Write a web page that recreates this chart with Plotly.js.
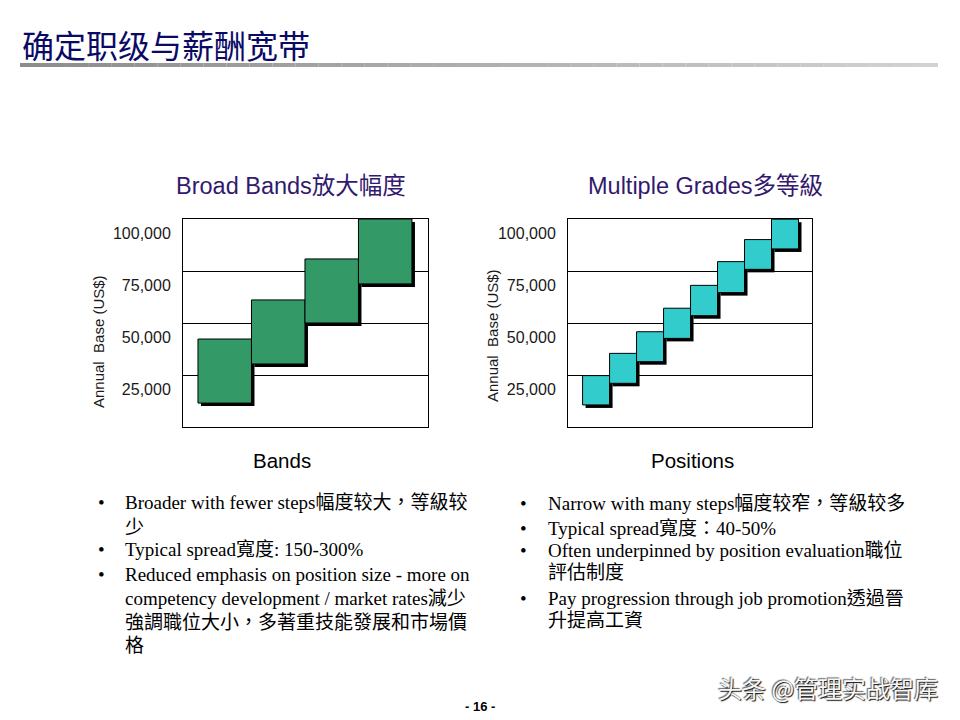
<!DOCTYPE html>
<html>
<head>
<meta charset="utf-8">
<script src="https://cdn.plot.ly/plotly-3.0.1.min.js"></script>
<style>html,body{margin:0;padding:0;background:#fff;}#chart{width:960px;height:720px;}</style>
</head>
<body>
<div id="chart"></div>
<script>
// ---- data ----
const pageTitle = '确定职级与薪酬宽带';
const bandTitle = 'Broad Bands放大幅度';
const gradeTitle = 'Multiple Grades多等級';
const bandAxisTitle = 'Bands';
const gradeAxisTitle = 'Positions';
const yAxisTitle = 'Annual  Base (US$)';
const bandIndex = [1, 2, 3, 4];
const bandLow  = [11500, 30300, 50000, 68800];
const bandHigh = [42300, 61100, 80800, 100000];
const gradeIndex = [1, 2, 3, 4, 5, 6, 7, 8];
const gradeLow  = [10600, 21000, 31400, 42600, 53500, 64600, 75800, 85600];
const gradeHigh = [24700, 35400, 45800, 57100, 68100, 79500, 90100, 99900];
const yTickVals = [25000, 50000, 75000, 100000];
const yTickText = ['25,000', '50,000', '75,000', '100,000'];
const leftBullets = [
  {bullet: true,  text: 'Broader with fewer steps幅度较大，等級较'},
  {bullet: false, text: '少'},
  {bullet: true,  text: 'Typical spread寬度: 150-300%'},
  {bullet: true,  text: 'Reduced emphasis on position size - more on'},
  {bullet: false, text: 'competency development / market rates減少'},
  {bullet: false, text: '強調職位大小，多著重技能發展和市場價'},
  {bullet: false, text: '格'}
];
const rightBullets = [
  {bullet: true,  text: 'Narrow with many steps幅度较窄，等級较多'},
  {bullet: true,  text: 'Typical spread寬度：40-50%'},
  {bullet: true,  text: 'Often underpinned by position evaluation職位'},
  {bullet: false, text: '評估制度'},
  {bullet: true,  text: 'Pay progression through job promotion透過晉'},
  {bullet: false, text: '升提高工資'}
];
const pageNumber = '- 16 -';
const watermark = '头条 @管理实战智库';

// ---- layout constants ----
const W = 960, H = 720;
const px = v => v / W, py = v => 1 - v / H;
const plotTop = 219, plotBottom = 427;
const yMax = 100000;
const shadowPx = 3;
const shadowY = shadowPx * yMax / (plotBottom - plotTop);
const leftX = [183, 428], rightX = [568, 812];
const bandRange = [0.22, 4.8], gradeRange = [-0.04, 9.0];
const bandUnitPx = (leftX[1] - leftX[0]) / (bandRange[1] - bandRange[0]);
const gradeUnitPx = (rightX[1] - rightX[0]) / (gradeRange[1] - gradeRange[0]);

const sans = 'Arial, "Liberation Sans", "Noto Sans CJK SC", sans-serif';
const serif = '"Times New Roman", "Liberation Serif", "Noto Sans CJK TC", serif';

function boxTraces(xs, lows, highs, color, xa, ya, unitPx) {
  const heights = highs.map((h, i) => h - lows[i]);
  return [
    {type: 'bar', x: xs, base: lows.map(v => v - shadowY), y: heights,
     width: 1, offset: -0.5 + shadowPx / unitPx,
     marker: {color: '#000000', line: {width: 0}},
     xaxis: xa, yaxis: ya, hoverinfo: 'skip', showlegend: false},
    {type: 'bar', x: xs, base: lows, y: heights, width: 1,
     marker: {color: color, line: {color: '#000000', width: 1}},
     xaxis: xa, yaxis: ya, hoverinfo: 'skip', showlegend: false}
  ];
}

const data = [
  ...boxTraces(bandIndex, bandLow, bandHigh, '#339966', 'x', 'y', bandUnitPx),
  ...boxTraces(gradeIndex, gradeLow, gradeHigh, '#33CCCC', 'x2', 'y2', gradeUnitPx)
];

function yAxis(anchor) {
  return {
    anchor: anchor, domain: [py(plotBottom), py(plotTop)], range: [0, yMax],
    tickvals: yTickVals, ticktext: yTickText, ticks: '',
    ticklabelshift: 14, ticklabelstandoff: 8,
    tickfont: {family: sans, size: 16, color: '#1a1a1a'},
    showgrid: true, gridcolor: '#000000', gridwidth: 1, zeroline: false,
    showline: true, linecolor: '#000000', linewidth: 1, mirror: true, fixedrange: true
  };
}
function xAxis(anchor, dom, rng) {
  return {
    anchor: anchor, domain: [px(dom[0]), px(dom[1])], range: rng,
    showticklabels: false, ticks: '', showgrid: false, zeroline: false,
    showline: true, linecolor: '#000000', linewidth: 1, mirror: true, fixedrange: true
  };
}

const annotations = [];
function ann(x, y, text, font, opts) {
  annotations.push(Object.assign({xref: 'paper', yref: 'paper', x: px(x), y: py(y), text: text,
    showarrow: false, font: font, xanchor: 'center', yanchor: 'middle'}, opts || {}));
}
ann(20, 44, pageTitle, {family: '"Noto Sans CJK SC", sans-serif', size: 32, color: '#0a0a66'}, {xanchor: 'left'});
ann(290.5, 186, bandTitle, {family: sans, size: 23.5, color: '#33196e'});
ann(705.5, 186, gradeTitle, {family: sans, size: 23.5, color: '#33196e'});
ann(98, 342, yAxisTitle, {family: sans, size: 15, color: '#1a1a1a'}, {textangle: -90});
ann(492, 335, yAxisTitle, {family: sans, size: 15, color: '#1a1a1a'}, {textangle: -90});
ann(282, 461, bandAxisTitle, {family: sans, size: 20.5, color: '#000000'});
ann(692, 461, gradeAxisTitle, {family: sans, size: 20.5, color: '#000000'});

const leftLineY = [502, 527, 549, 574, 598, 622, 645];
const rightLineY = [503, 528, 550, 572, 598, 620];
const bulletFont = {family: serif, size: 19, color: '#000000'};
leftBullets.forEach((b, i) => {
  if (b.bullet) ann(101, leftLineY[i], '•', bulletFont);
  ann(123, leftLineY[i], b.text, bulletFont, {xanchor: 'left'});
});
rightBullets.forEach((b, i) => {
  if (b.bullet) ann(523, rightLineY[i], '•', bulletFont);
  ann(546, rightLineY[i], b.text, bulletFont, {xanchor: 'left'});
});
ann(480, 706, '<b>' + pageNumber + '</b>', {family: sans, size: 13, color: '#000000'});
ann(828, 687, watermark, {family: '"Noto Sans CJK SC", sans-serif', size: 24, color: '#f7f7f7',
  shadow: '1px 1px 1px #111, -1px -1px 1px #666'});

// header rule with gradient
const shapes = [];
const segs = 40, x0 = 20, x1 = 938;
for (let i = 0; i < segs; i++) {
  const t = i / (segs - 1);
  const c = Math.round(0x8c + (0xd2 - 0x8c) * t);
  shapes.push({type: 'rect', xref: 'paper', yref: 'paper',
    x0: px(x0 + (x1 - x0) * i / segs), x1: px(x0 + (x1 - x0) * (i + 1) / segs),
    y0: py(67), y1: py(63), fillcolor: `rgb(${c},${c},${c})`, line: {width: 0}, layer: 'above'});
}

const layout = {
  width: W, height: H, margin: {l: 0, r: 0, t: 0, b: 0},
  paper_bgcolor: '#ffffff', plot_bgcolor: '#ffffff',
  barmode: 'overlay', showlegend: false,
  xaxis: xAxis('y', leftX, bandRange),
  yaxis: yAxis('x'),
  xaxis2: xAxis('y2', rightX, gradeRange),
  yaxis2: yAxis('x2'),
  annotations: annotations, shapes: shapes
};

Plotly.newPlot('chart', data, layout, {staticPlot: true, displayModeBar: false});
</script>
</body>
</html>
